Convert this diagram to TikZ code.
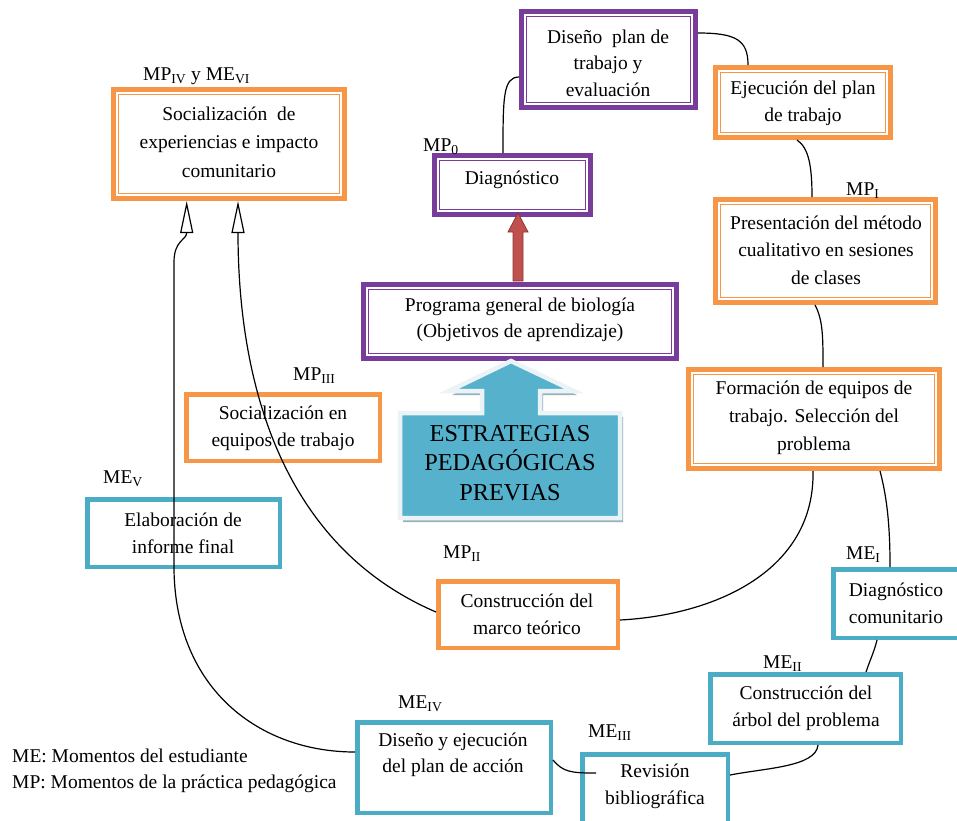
\documentclass[tikz,border=0pt]{standalone}
\usepackage{fontspec}
\setmainfont{Liberation Serif}
\usetikzlibrary{fit,calc,arrows.meta}
\definecolor{cor}{RGB}{247,150,70}
\definecolor{cbl}{RGB}{75,172,198}
\definecolor{cpu}{RGB}{120,60,155}
\definecolor{credf}{RGB}{192,80,77}
\definecolor{credd}{RGB}{140,55,52}
\definecolor{cbig}{RGB}{86,178,204}
\definecolor{cbigedge}{RGB}{236,243,247}
\definecolor{cshadow}{RGB}{150,178,190}
\tikzset{
  dbox/.style={draw=#1, line width=5pt, inner sep=0pt,
    path picture={\draw[draw=#1,line width=1.3pt]
      ($(path picture bounding box.south west)+(5pt,5pt)$) rectangle
      ($(path picture bounding box.north east)+(-5pt,-5pt)$);}},
  sbox/.style={draw=#1, line width=4.5pt, inner sep=0pt},
  txt/.style={font=\fontsize{19.5}{27.5}\selectfont, align=center, inner sep=0pt},
  lbl/.style={font=\fontsize{19.5}{23}\selectfont, inner sep=0pt, anchor=base west},
  bigtxt/.style={font=\fontsize{24.3}{29.5}\selectfont, align=center, inner sep=0pt},
  conn/.style={draw=black, line width=1.2pt},
  arr/.style={conn, -{Triangle[open,length=32pt,width=13pt]}},
}
\begin{document}
\begin{tikzpicture}[x=1pt,y=-1pt]
\useasboundingbox (0,0) rectangle (957,820);
\clip (0,0) rectangle (957,820);
\fill[white] (0,0) rectangle (957,820);

% ---- double-bordered boxes
\node[dbox=cor, fit={(113.5,89.5) (344.5,198.5)}] (b1) {};
\node[dbox=cpu, fit={(521.5,11.5) (695.5,107.5)}] (b2) {};
\node[dbox=cpu, fit={(434.5,155.5) (590.5,214.5)}] (b3) {};
\node[dbox=cor, fit={(715.5,67.5) (890.5,137.5)}] (b4) {};
\node[dbox=cor, fit={(715.5,199.5) (935.5,302.5)}] (b5) {};
\node[dbox=cpu, fit={(363.5,284.5) (676.5,358.5)}] (b6) {};
\node[dbox=cor, fit={(688.5,369.5) (939.5,468.5)}] (b7) {};

% ---- single-bordered boxes
\node[sbox=cor, fit={(186.25,394.25) (379.75,460.75)}] (s1) {};
\node[sbox=cbl, fit={(87.25,499.25) (279.75,566.75)}] (s2) {};
\node[sbox=cor, fit={(438.25,581.25) (617.75,647.75)}] (s3) {};
\node[sbox=cbl, fit={(833.25,569.25) (970,637.75)}] (s4) {};
\node[sbox=cbl, fit={(710.25,674.25) (900.75,742.75)}] (s5) {};
\node[sbox=cbl, fit={(357.25,722.25) (550.75,812.75)}] (s6) {};
\node[sbox=cbl, fit={(582.25,754.25) (727.75,835)}] (s7) {};

% ---- box texts
\node[txt, font=\fontsize{19.5}{28.5}\selectfont] (t1) at (229,142) {Socialización~ de\\experiencias e impacto\\comunitario};
\node[txt, font=\fontsize{19.5}{26.5}\selectfont] (t2) at (608,63) {Diseño~ plan de\\trabajo y\\evaluación};
\node[txt] (t3) at (512,180) {Diagnóstico};
\node[txt] (t4) at (803,103.5) {Ejecución del plan\\de trabajo};
\node[txt] (t5) at (826,250) {Presentación del método\\cualitativo en sesiones\\de clases};
\node[txt, font=\fontsize{19.5}{26.5}\selectfont] (t6) at (520,320) {Programa general de biología\\(Objetivos de aprendizaje)};
\node[txt, font=\fontsize{19.5}{28}\selectfont] (t7) at (814,418) {Formación de equipos de\\trabajo. Selección del\\problema};
\node[txt] (u1) at (283,428.5) {Socialización en\\equipos de trabajo};
\node[txt] (u2) at (183,533.5) {Elaboración de\\informe final};
\node[txt] (u3) at (527,614.5) {Construcción del\\marco teórico};
\node[txt] (u4) at (896,603.5) {Diagnóstico\\comunitario};
\node[txt] (u5) at (806,708.5) {Construcción del\\árbol del problema};
\node[txt, font=\fontsize{19.5}{26.5}\selectfont] (u6) at (453,755) {Diseño y ejecución\\del plan de acción};
\node[txt] (u7) at (655,786.5) {Revisión\\bibliográfica};

% ---- labels
\node[lbl] (l1) at (143,80) {MP\textsubscript{IV} y ME\textsubscript{VI}};
\node[lbl] (l2) at (423,151) {MP\textsubscript{0}};
\node[lbl] (l3) at (846,195) {MP\textsubscript{I}};
\node[lbl] (l4) at (293,380) {MP\textsubscript{III}};
\node[lbl] (l5) at (103,483) {ME\textsubscript{V}};
\node[lbl] (l6) at (443,558) {MP\textsubscript{II}};
\node[lbl] (l7) at (846,559) {ME\textsubscript{I}};
\node[lbl] (l8) at (763,668) {ME\textsubscript{II}};
\node[lbl] (l9) at (398,708) {ME\textsubscript{IV}};
\node[lbl] (l10) at (588,737) {ME\textsubscript{III}};
\node[lbl] (leg1) at (12,762) {ME: Momentos del estudiante};
\node[lbl] (leg2) at (12,788) {MP: Momentos de la práctica pedagógica};

% ---- big blue arrow block
\fill[cshadow, shift={(3,4)}] (400,518) -- (400,413) -- (482,413) -- (482,391) -- (449,391)
  -- (511,361) -- (574,391) -- (540,391) -- (540,413) -- (620,413) -- (620,518) -- cycle;
\filldraw[fill=cbig, draw=cbigedge, line width=4.5pt, line join=miter]
  (400,518) -- (400,413) -- (482,413) -- (482,391) -- (449,391)
  -- (511,361) -- (574,391) -- (540,391) -- (540,413) -- (620,413) -- (620,518) -- cycle;
\node[bigtxt] (estr) at (510,463) {ESTRATEGIAS\\PEDAGÓGICAS\\PREVIAS};

% ---- red arrow
\filldraw[fill=credf, draw=credd, line width=0.8pt]
  (513,281) -- (513,232) -- (508,232) -- (518,213) -- (528,232) -- (523,232) -- (523,281) -- cycle;

% ---- connectors
\draw[conn] ([xshift=-9.5pt]b3.north) .. controls +(0,-55) and +(-16,0) .. ([yshift=-17.5pt]b2.west);
\draw[conn] ([yshift=26.5pt]b2.east) .. controls +(38,0) and +(0,-25) .. ([xshift=-55pt]b4.north);
\draw[conn] ([xshift=-6pt]b4.south) .. controls +(12,8) and +(0,-30) .. ([xshift=-13.5pt]b5.north);
\draw[conn] ([xshift=-10.5pt]b5.south) .. controls +(8,15) and +(0,-30) .. ([xshift=9pt]b7.north);
\draw[conn] ([xshift=-1pt]b7.south) .. controls +(2,100) and +(95,-5) .. ([yshift=-5.5pt]s3.east);
\draw[conn] ([xshift=66pt]b7.south) .. controls +(8,30) and +(0,-35) .. ([xshift=-11.6pt]s4.north);
\draw[conn] ([xshift=-24.6pt]s4.south) .. controls +(-3,12) and +(4,-12) .. ([xshift=60.5pt]s5.north);
\draw[conn] ([xshift=12.5pt]s5.south) .. controls +(-2,22) and +(35,-7) .. ([yshift=19.6pt]s7.east);
\draw[conn] ([yshift=7.5pt]s6.east) .. controls +(10,12) and +(-25,0) .. ([xshift=16pt,yshift=21.6pt]s7.west);
\draw[arr] ([yshift=15.5pt]s6.west) .. controls (260,752) and (176,690) .. (174,570)
  -- (174,262) .. controls (174,240) and (186.7,240) .. ([xshift=-42.3pt]b1.south);
\draw[arr] ([yshift=2.5pt]s3.west) .. controls (280,545) and (238,380) .. ([xshift=9pt]b1.south);
\end{tikzpicture}
\end{document}
